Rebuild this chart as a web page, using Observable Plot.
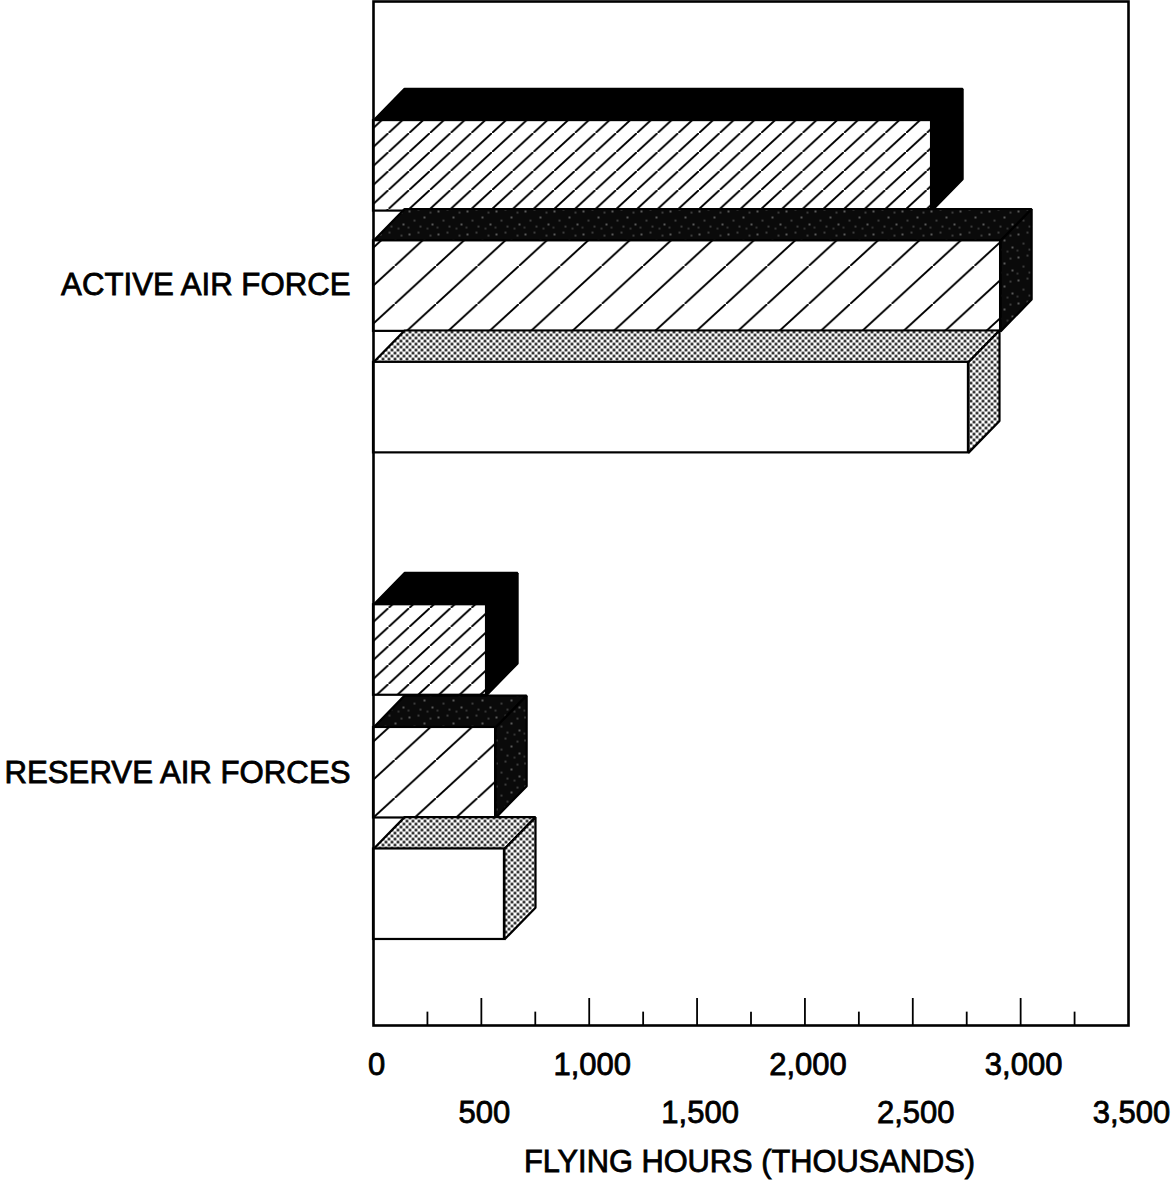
<!DOCTYPE html>
<html>
<head>
<meta charset="utf-8">
<script src="https://cdn.jsdelivr.net/npm/d3@7"></script>
<script src="https://cdn.jsdelivr.net/npm/@observablehq/plot@0.6"></script>
<style>
html,body{margin:0;padding:0;background:#fff}
svg{display:block}
#chart svg text{stroke:#000;stroke-width:.8px;paint-order:stroke}
</style>
</head>
<body>
<svg width="0" height="0" style="position:absolute">
  <defs>
    <pattern id="hatchFine" patternUnits="userSpaceOnUse" width="20.7" height="19" patternTransform="translate(15.9,0)">
      <rect width="20.7" height="19" fill="#fff"/>
      <path d="M-2.07,20.9 L22.77,-1.9" stroke="#000" stroke-width="2"/>
    </pattern>
    <pattern id="hatchWide" patternUnits="userSpaceOnUse" width="41.4" height="38" patternTransform="translate(22.1,0)">
      <rect width="41.4" height="38" fill="#fff"/>
      <path d="M-4.14,41.8 L45.54,-3.8" stroke="#000" stroke-width="2"/>
    </pattern>
    <pattern id="stippleDark" patternUnits="userSpaceOnUse" width="29" height="23">
      <rect width="29" height="23" fill="#0a0a0a"/>
      <g fill="#e8e8e8">
        <circle cx="3" cy="4" r=".7"/><circle cx="12" cy="2" r=".6"/><circle cx="18" cy="10" r=".7"/>
        <circle cx="8" cy="13" r=".6"/><circle cx="24" cy="5" r=".6"/><circle cx="26" cy="17" r=".7"/>
        <circle cx="14" cy="19" r=".6"/><circle cx="2" cy="20" r=".5"/><circle cx="21" cy="21" r=".5"/>
      </g>
    </pattern>
    <pattern id="stippleLight" patternUnits="userSpaceOnUse" width="6" height="6">
      <rect width="6" height="6" fill="#fff"/>
      <circle cx="1.5" cy="1.5" r="1.5" fill="#111"/>
      <circle cx="4.5" cy="4.5" r="1.5" fill="#111"/>
    </pattern>
  </defs>
</svg>
<div id="chart"></div>
<script>
// Flying hours (thousands) by force, top to bottom in the picture
const forces = ["ACTIVE AIR FORCE", "RESERVE AIR FORCES"];
const forceCentres = [2.337, 6.35];
const hours = [2587, 2907, 2758, 524, 566, 607];
const rowTops = [0.98, 1.97, 2.97, 4.965, 5.975, 6.975];
const frontFills = ["url(#hatchFine)", "url(#hatchWide)", "#fff", "url(#hatchFine)", "url(#hatchWide)", "#fff"];
const depthFills = ["#000", "url(#stippleDark)", "url(#stippleLight)", "#000", "url(#stippleDark)", "url(#stippleLight)"];
const majorTicks = [0, 500, 1000, 1500, 2000, 2500, 3000, 3500];
const lowerRowTicks = [0, 1000, 2000, 3000];
const upperRowTicks = [500, 1500, 2500, 3500];
const minorTicks = [250, 750, 1250, 1750, 2250, 2750, 3250];
const rowHeight = 0.745;
const depthX = 144;
const depthY = 0.262;
const axisBase = 8.428;

const font = 31;
const lineW = 2.2;

const barMarks = hours.flatMap((v, i) => {
  const t = rowTops[i], b = t + rowHeight;
  const top = [[0, t], [depthX, t - depthY], [v + depthX, t - depthY], [v, t], [0, t]];
  const side = [[v, t], [v + depthX, t - depthY], [v + depthX, b - depthY], [v, b], [v, t]];
  return [
    Plot.line(top, {x: "0", y: "1", fill: depthFills[i], stroke: "#000", strokeWidth: lineW, strokeLinejoin: "miter"}),
    Plot.line(side, {x: "0", y: "1", fill: depthFills[i], stroke: "#000", strokeWidth: lineW, strokeLinejoin: "miter"}),
    Plot.rect([{v, t, b}], {x1: 0, x2: "v", y1: "t", y2: "b", fill: frontFills[i], stroke: "#000", strokeWidth: lineW})
  ];
});

const chart = Plot.plot({
  width: 1175,
  height: 1184,
  marginLeft: 373,
  marginRight: 47,
  marginTop: 1,
  marginBottom: 159,
  style: {fontFamily: "'Liberation Sans', Arial, sans-serif", background: "#fff", color: "#000"},
  x: {domain: [0, 3500], range: [373, 1128]},
  y: {domain: [0, axisBase], range: [1, 1025], axis: null},
  marks: [
    ...barMarks,
    Plot.frame({stroke: "#000", strokeWidth: 2.6}),
    Plot.ruleX(majorTicks.slice(1, -1), {y1: axisBase, y2: axisBase - 0.222, stroke: "#000", strokeWidth: 1.8}),
    Plot.ruleX(minorTicks, {y1: axisBase, y2: axisBase - 0.11, stroke: "#000", strokeWidth: 1.8}),
    Plot.axisX({ticks: lowerRowTicks, tickSize: 0, tickPadding: 27, tickFormat: d3.format(","), fontSize: font, dx: 3, label: null}),
    Plot.axisX({ticks: upperRowTicks, tickSize: 0, tickPadding: 75, tickFormat: d3.format(","), fontSize: font, dx: 3, label: null}),
    Plot.text(["FLYING HOURS (THOUSANDS)"], {frameAnchor: "bottom", dy: 146, dx: -1.5, fontSize: 30.8}),
    Plot.text(forces, {x: () => 0, y: (d, i) => forceCentres[i], text: d => d, textAnchor: "end", dx: -23, fontSize: 31.2})
  ]
});
document.getElementById("chart").appendChild(chart);
</script>
</body>
</html>
